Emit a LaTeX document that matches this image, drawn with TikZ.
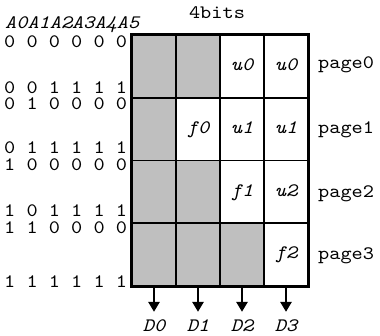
\documentclass[tikz,border=0pt]{standalone}
\usepackage{fontspec}
\setmonofont{lmmono10-regular.otf}[ItalicFont=lmmono10-italic.otf, FakeStretch=1.12]
\usetikzlibrary{arrows.meta}
\newcommand{\courfont}{\ttfamily\fontsize{19}{22}\selectfont}
\begin{document}
\begin{tikzpicture}[x=1pt,y=-1pt,
  txt/.style={font=\courfont, inner sep=0pt, text depth=0pt},
  itxt/.style={font=\courfont\itshape, inner sep=0pt, text depth=0pt},
  cell/.style={draw=black, line width=1.8pt, minimum width=44pt, minimum height=62.75pt, inner sep=0pt},
  shaded/.style={cell, fill=black!25},
  plain/.style={cell, fill=white},
  outarrow/.style={line width=2.6pt, -{Triangle[width=11pt,length=10pt]}}]
\useasboundingbox (0,0) rectangle (380,335);
% cells
\foreach \r/\y in {0/66.375,1/129.125,2/191.875,3/254.625}{
  \foreach \c/\x in {0/154,1/198,2/242,3/286}{
    \coordinate (p\r\c) at (\x,\y);
  }
}
\node[shaded] (c00) at (p00) {};
\node[shaded] (c01) at (p01) {};
\node[plain] (c02) at (p02) {};
\node[plain] (c03) at (p03) {};
\node[shaded] (c10) at (p10) {};
\node[plain] (c11) at (p11) {};
\node[plain] (c12) at (p12) {};
\node[plain] (c13) at (p13) {};
\node[shaded] (c20) at (p20) {};
\node[shaded] (c21) at (p21) {};
\node[plain] (c22) at (p22) {};
\node[plain] (c23) at (p23) {};
\node[shaded] (c30) at (p30) {};
\node[shaded] (c31) at (p31) {};
\node[shaded] (c32) at (p32) {};
\node[plain] (c33) at (p33) {};
\draw[line width=3pt] (c00.north west) rectangle (c33.south east);
% cell labels
\node[itxt, anchor=base] (l02) at ([yshift=-4pt]c02.center) {u0};
\node[itxt, anchor=base] (l03) at ([yshift=-4pt]c03.center) {u0};
\node[itxt, anchor=base] (l11) at ([yshift=-4pt]c11.center) {f0};
\node[itxt, anchor=base] (l12) at ([yshift=-4pt]c12.center) {u1};
\node[itxt, anchor=base] (l13) at ([yshift=-4pt]c13.center) {u1};
\node[itxt, anchor=base] (l22) at ([yshift=-5pt]c22.center) {f1};
\node[itxt, anchor=base] (l23) at ([yshift=-5pt]c23.center) {u2};
\node[itxt, anchor=base] (l33) at ([yshift=-4pt]c33.center) {f2};
% page labels
\node[txt, anchor=base west] (pg0) at (318,68) {page0};
\node[txt, anchor=base west] (pg1) at (318,133) {page1};
\node[txt, anchor=base west] (pg2) at (318,197) {page2};
\node[txt, anchor=base west] (pg3) at (318,259) {page3};
% title
\node[txt, anchor=base] (title) at (217,18) {4bits};
\node[itxt, anchor=base west] (addr) at (5,28) {A0A1A2A3A4A5};
% address rows
\node[txt, anchor=base west] (a1) at (4,47) {0 0 0 0 0 0};
\node[txt, anchor=base west] (a2) at (4,93) {0 0 1 1 1 1};
\node[txt, anchor=base west] (a3) at (4,109.5) {0 1 0 0 0 0};
\node[txt, anchor=base west] (a4) at (4,153.5) {0 1 1 1 1 1};
\node[txt, anchor=base west] (a5) at (4,170.5) {1 0 0 0 0 0};
\node[txt, anchor=base west] (a6) at (4,216) {1 0 1 1 1 1};
\node[txt, anchor=base west] (a7) at (4,233) {1 1 0 0 0 0};
\node[txt, anchor=base west] (a8) at (4,287) {1 1 1 1 1 1};
% outputs
\foreach \c in {0,1,2,3}{
  \coordinate (e\c) at ([yshift=-25pt]c3\c.south);
  \draw[outarrow] (c3\c.south) -- (e\c);
  \node[itxt, anchor=base] (d\c) at ([yshift=-20pt]e\c) {D\c};
}
\end{tikzpicture}
\end{document}
